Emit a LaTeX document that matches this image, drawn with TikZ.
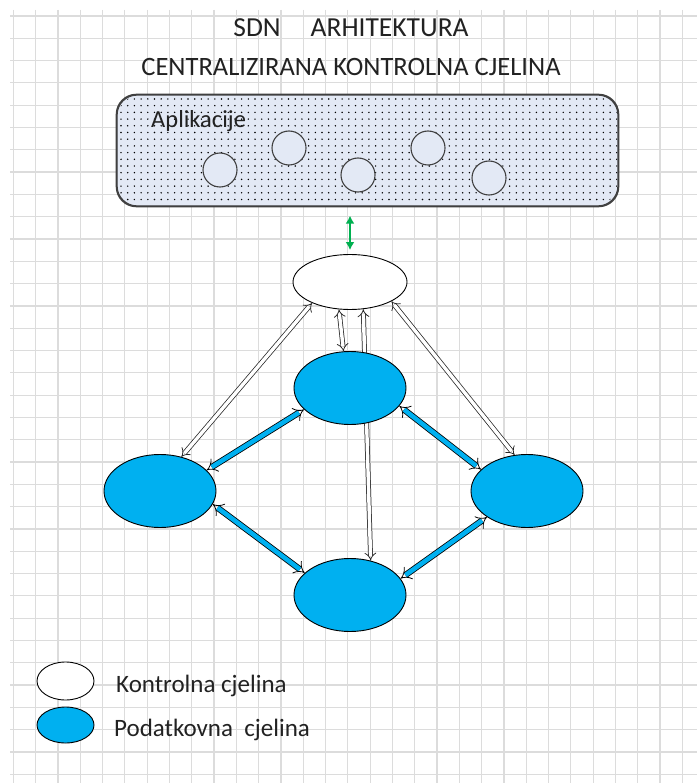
\documentclass[tikz,border=0pt]{standalone}
\usepackage{fontspec}
\setmainfont{Carlito}
\usetikzlibrary{shapes.geometric,arrows.meta}
\definecolor{gridc}{HTML}{DCDCDC}
\definecolor{dblue}{HTML}{00B0F0}
\definecolor{appfill}{HTML}{E3E9F5}
\definecolor{grn}{HTML}{00B050}
\definecolor{txt}{HTML}{222222}
\pgfdeclarelayer{gridlayer}
\pgfdeclarelayer{bg}
\pgfsetlayers{gridlayer,bg,main}
\begin{document}
\begin{tikzpicture}[x=1pt,y=-1pt,
  gridline/.style={gridc, line width=1.2pt},
  titletext/.style={inner sep=0, txt, font=\fontsize{26.5}{30}\selectfont},
  legtext/.style={inner sep=0, anchor=west, txt, font=\fontsize{25}{29}\selectfont},
  appcirc/.style={circle, draw=black!75, line width=1.1pt, fill=appfill, minimum size=34, inner sep=0},
  ctrlell/.style={ellipse, draw=black, line width=0.9pt, fill=white, minimum width=114, minimum height=55, inner sep=0},
  dataell/.style={ellipse, draw=black, line width=0.9pt, fill=dblue, minimum width=112, minimum height=73, inner sep=0},
  blueconn/.style={draw=black, line width=0.8pt, double=dblue, double distance=4.6pt, arrows={Implies-Implies}},
  whiteconn/.style={draw=black!85, line width=0.75pt, double=white, double distance=3.4pt, arrows={Implies-Implies}},
  greenconn/.style={grn, line width=2pt, arrows={Latex[length=8pt,width=9pt]-Latex[length=8pt,width=9pt]}}
]
\useasboundingbox (0,0) rectangle (697,783);
\begin{pgfonlayer}{gridlayer}
\fill[white] (0,0) rectangle (697,783);
\foreach \i in {0,...,30} \draw[gridline] ({13.3+22.3*\i},10) -- ({13.3+22.3*\i},783);
\foreach \j in {0,...,34} \draw[gridline] (10,{16+22.3*\j}) -- (697,{16+22.3*\j});
\end{pgfonlayer}

% titles
\node[titletext, font=\fontsize{27.5}{31}\selectfont] (t1) at (351,28) {SDN\hspace{30pt}ARHITEKTURA};
\node[titletext] (t2) at (351,67) {CENTRALIZIRANA KONTROLNA CJELINA};

% applications box
\node[draw=black!75, line width=1.3pt, rounded corners=20pt, fill=appfill,
      minimum width=501, minimum height=111, inner sep=0] (apps) at (367.5,150.5) {};
\begin{scope}
\clip[rounded corners=20pt] (118,96) rectangle (617,205);
\foreach \x in {121,127.7,...,618}{\foreach \y in {99,105.7,...,206}{\fill[black] (\x,\y) circle (0.8);}}
\end{scope}
\draw[black!75, line width=1.3pt, rounded corners=20pt] (apps.north west) rectangle (apps.south east);
\node[inner sep=0, anchor=west, txt, font=\fontsize{24.5}{28}\selectfont] (aplabel) at (151,121) {Aplikacije};
\node[appcirc] (a1) at (220,170) {};
\node[appcirc] (a2) at (289,148) {};
\node[appcirc] (a3) at (358,175) {};
\node[appcirc] (a4) at (428,148) {};
\node[appcirc] (a5) at (489,178) {};

% planes
\node[ctrlell] (C) at (350,282) {};
\node[dataell] (T) at (350,388) {};
\node[dataell] (L) at (160,491) {};
\node[dataell] (R) at (527,491) {};
\node[dataell] (B) at (350,595) {};

\draw[greenconn, shorten <=9pt, shorten >=4pt] (apps.south -| C.north) -- (C.north);

\begin{pgfonlayer}{bg}
\draw[blueconn] (L.24.5) -- (T.205.5);
\draw[blueconn] (T.340.5) -- (R.155.7);
\draw[blueconn] (L.346.5) -- (B.154);
\draw[blueconn] (B.18.8) -- (R.213);
\draw[whiteconn] (C.209.9) -- (L.58.6);
\draw[whiteconn] (C.335) -- (R.109.7);
\draw[whiteconn] (C.248) -- (T.100);
\draw[whiteconn] (C.296) -- (B.59);
\end{pgfonlayer}

% legend
\node[ctrlell, minimum width=57, minimum height=38] (lc) at (65.5,681) {};
\node[dataell, minimum width=57, minimum height=36] (ld) at (65.5,725) {};
\node[legtext] (lct) at (116,686) {Kontrolna cjelina};
\node[legtext] (ldt) at (114,730) {Podatkovna\ \ cjelina};
\end{tikzpicture}
\end{document}
